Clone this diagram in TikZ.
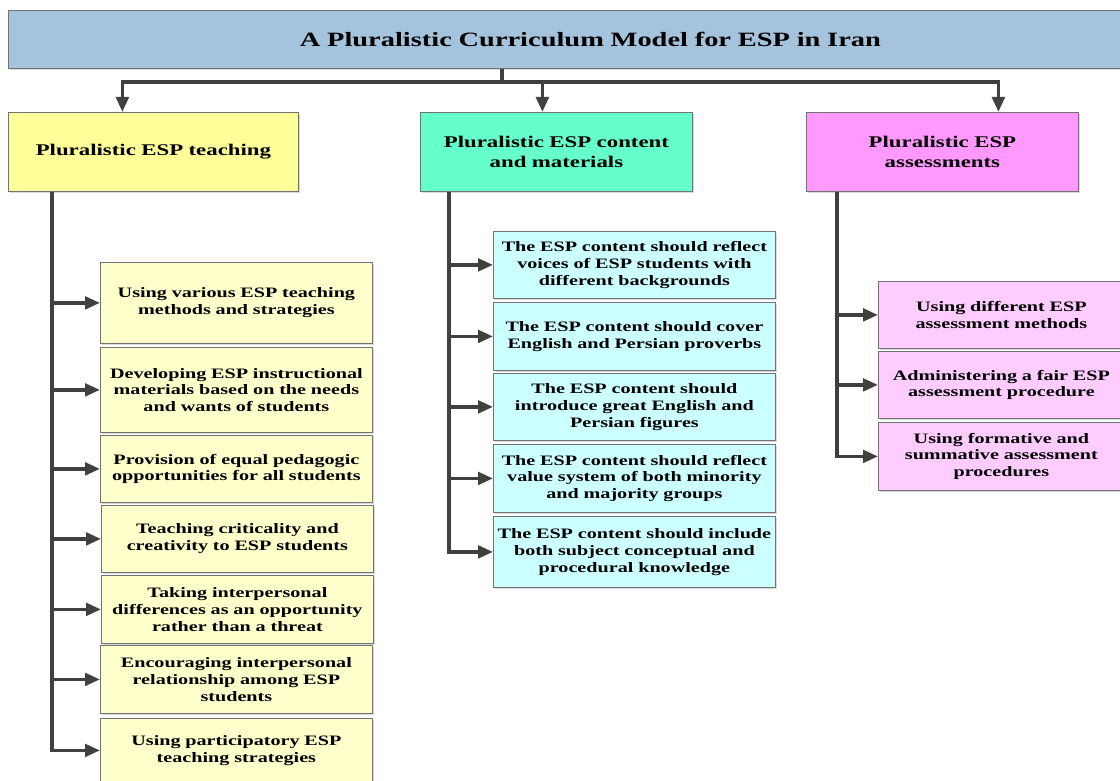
\documentclass[tikz,border=0pt]{standalone}
\usepackage{fontspec}
\setmainfont{Liberation Serif}[FakeStretch=1.4]
\usetikzlibrary{arrows.meta, positioning, shadows, calc}

\definecolor{titleblue}{RGB}{166,195,222}
\definecolor{teachhead}{RGB}{255,255,153}
\definecolor{contenthead}{RGB}{102,255,204}
\definecolor{assesshead}{RGB}{255,153,255}
\definecolor{teachbox}{RGB}{255,255,204}
\definecolor{contentbox}{RGB}{204,255,255}
\definecolor{assessbox}{RGB}{255,204,255}

\begin{document}
\begin{tikzpicture}[x=1pt, y=-1pt,
    block/.style={draw=black!55, line width=0.8pt, align=center, anchor=north west, inner sep=3pt,
        minimum width=272pt, text width=266pt, font=\bfseries\fontsize{14.4}{16.7}\selectfont,
        drop shadow={shadow xshift=1.5pt, shadow yshift=-1.5pt, opacity=0.3}},
    head/.style={block, minimum height=79pt, font=\bfseries\fontsize{16.3}{20}\selectfont},
    link/.style={draw=black!75, line width=3.5pt, -{Triangle[length=15pt, width=12.5pt]}},
    trunk/.style={draw=black!75, line width=3.5pt}
]
    \useasboundingbox (0,0) rectangle (1120,781);

    % Title
    \node[block, fill=titleblue, minimum width=1164pt, text width=1150pt, minimum height=58pt,
        font=\bfseries\fontsize{20.3}{24}\selectfont] (title) at (8,10)
        {A Pluralistic Curriculum Model for ESP in Iran};

    % Three pillars
    \node[head, fill=teachhead, minimum width=290pt] (teach) at (8,112) {Pluralistic ESP teaching};
    \node[head, fill=contenthead] (content) at (420,112) {Pluralistic ESP content\\and materials};
    \node[head, fill=assesshead] (assess) at (806,112) {Pluralistic ESP\\assessments};

    % Teaching
    \node[block, fill=teachbox, minimum height=81pt] (t1) at (100,262) {Using various ESP teaching\\methods and strategies};
    \node[block, fill=teachbox, minimum height=85pt] (t2) at (100,347) {Developing ESP instructional\\materials based on the needs\\and wants of students};
    \node[block, fill=teachbox, minimum height=67pt] (t3) at (100,435) {Provision of equal pedagogic\\opportunities for all students};
    \node[block, fill=teachbox, minimum height=67pt] (t4) at (101,505) {Teaching criticality and\\creativity to ESP students};
    \node[block, fill=teachbox, minimum height=68pt] (t5) at (101,575) {Taking interpersonal\\differences as an opportunity\\rather than a threat};
    \node[block, fill=teachbox, minimum height=68pt] (t6) at (100,645) {Encouraging interpersonal\\relationship among ESP\\students};
    \node[block, fill=teachbox, minimum height=64pt] (t7) at (100,718) {Using participatory ESP\\teaching strategies};

    % Content and materials
    \node[block, fill=contentbox, minimum width=282pt, text width=278pt, inner sep=2pt, minimum height=67pt] (c1) at (493,231) {The ESP content should reflect\\voices of ESP students with\\different backgrounds};
    \node[block, fill=contentbox, minimum width=282pt, text width=278pt, inner sep=2pt, minimum height=68pt] (c2) at (493,302) {The ESP content should cover\\English and Persian proverbs};
    \node[block, fill=contentbox, minimum width=282pt, text width=278pt, inner sep=2pt, minimum height=67pt] (c3) at (493,373) {The ESP content should\\introduce great English and\\Persian figures};
    \node[block, fill=contentbox, minimum width=282pt, text width=278pt, inner sep=2pt, minimum height=68pt] (c4) at (493,444) {The ESP content should reflect\\value system of both minority\\and majority groups};
    \node[block, fill=contentbox, minimum width=282pt, text width=278pt, inner sep=2pt, minimum height=71pt] (c5) at (493,516) {The ESP content should include\\both subject conceptual and\\procedural knowledge};

    % Assessments
    \node[block, fill=assessbox, minimum width=246pt, text width=240pt, minimum height=67pt] (a1) at (878,281) {Using different ESP\\assessment methods};
    \node[block, fill=assessbox, minimum width=246pt, text width=240pt, minimum height=67pt] (a2) at (878,351) {Administering a fair ESP\\assessment procedure};
    \node[block, fill=assessbox, minimum width=246pt, text width=240pt, minimum height=68pt] (a3) at (878,422) {Using formative and\\summative assessment\\procedures};

    % Title to pillars
    \coordinate (split) at (502,82);
    \draw[trunk] (title.south -| split) -- (split);
    \draw[link] (split) -| ([xshift=-31pt]teach.north);
    \draw[link] (split) -| ([xshift=-14pt]content.north);
    \draw[link] (split) -| ([xshift=56pt]assess.north);

    % Teaching branches
    \coordinate (tt) at ([xshift=44pt]teach.south west);
    \draw[link] (tt) |- (t7.west);
    \draw[link] (t1.west -| tt) -- (t1.west);
    \draw[link] (t2.west -| tt) -- (t2.west);
    \draw[link] (t3.west -| tt) -- (t3.west);
    \draw[link] (t4.west -| tt) -- (t4.west);
    \draw[link] (t5.west -| tt) -- (t5.west);
    \draw[link] (t6.west -| tt) -- (t6.west);

    % Content branches
    \coordinate (ct) at ([xshift=29pt]content.south west);
    \draw[link] (ct) |- (c5.west);
    \draw[link] (c1.west -| ct) -- (c1.west);
    \draw[link] (c2.west -| ct) -- (c2.west);
    \draw[link] (c3.west -| ct) -- (c3.west);
    \draw[link] (c4.west -| ct) -- (c4.west);

    % Assessment branches
    \coordinate (at) at ([xshift=31pt]assess.south west);
    \draw[link] (at) |- (a3.west);
    \draw[link] (a1.west -| at) -- (a1.west);
    \draw[link] (a2.west -| at) -- (a2.west);
\end{tikzpicture}
\end{document}
